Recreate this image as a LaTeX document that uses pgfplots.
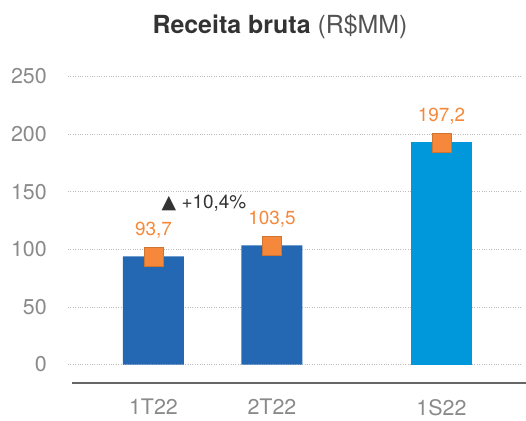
\documentclass[border=0pt]{standalone}
\usepackage{pgfplots}
\pgfplotsset{compat=1.18}
\usepackage{fontspec}
\setmainfont{TeX Gyre Heros}
\newfontfamily\symfont{DejaVu Sans}
\definecolor{darkblue}{HTML}{2467B3}
\definecolor{lightblue}{HTML}{0098DA}
\definecolor{orng}{HTML}{F5883A}
\definecolor{tickgray}{HTML}{8A8A8A}
\definecolor{gridgray}{HTML}{BDBDBD}
\definecolor{titlegray}{HTML}{333333}
\definecolor{linegray}{HTML}{666666}
\begin{document}
\begin{tikzpicture}
\useasboundingbox (-68bp,-38bp) rectangle (458bp,383bp);
\begin{axis}[
  at={(0,0)}, anchor=south west,
  scale only axis,
  width=454bp, height=306.5bp,
  xmin=-0.7215, xmax=3.11,
  ymin=-16, ymax=250,
  ytick={0,50,100,150,200,250},
  xtick={0,1,2.43},
  xticklabels={1T22,2T22,1S22},
  axis line style={draw=none},
  major tick length=0pt,
  ymajorgrids,
  grid style={gridgray, dotted, line width=0.7pt},
  /pgf/number format/assume math mode=true,
  ticklabel style={font=\fontsize{21.5}{25}\selectfont, text=tickgray},
  yticklabel style={anchor=east, inner sep=0pt, xshift=-21bp},
  xticklabel style={anchor=north, inner sep=0pt, yshift=-16bp},
  clip=false,
]
\addplot[ybar, bar width=61bp, fill=darkblue, draw=none] coordinates {(0,94) (1,103.5)};
\addplot[ybar, bar width=61bp, fill=lightblue, draw=none] coordinates {(2.43,193)};
\addplot[only marks, mark=square*, mark size=9.5bp,
  mark options={fill=orng, draw=orng!85!black, line width=0.3pt},
  point meta=explicit,
  nodes near coords={\pgfmathprintnumber[fixed, precision=1, fixed zerofill, use comma]{\pgfplotspointmeta}},
  every node near coord/.style={anchor=center, yshift=26bp, text=orng, font=\fontsize{19}{22}\selectfont},
] table[x=x, y=y, meta=v] {
x y v
0 94 93.7
1 103.5 103.5
2.43 193 197.2
};
\node[text=titlegray, font=\fontsize{19}{22}\selectfont, anchor=center] at (axis cs:0.426,140.2) {{\symfont ▲} +10,4\%};
\draw[color=linegray, line width=1.6pt] (rel axis cs:0.0088,0) -- (rel axis cs:1.0088,0);
\end{axis}
\node[anchor=center, font=\fontsize{25}{29}\selectfont, text=titlegray] at (212bp,356bp) {\textbf{Receita bruta} {\color{titlegray!85}(R\$MM)}};
\end{tikzpicture}
\end{document}
